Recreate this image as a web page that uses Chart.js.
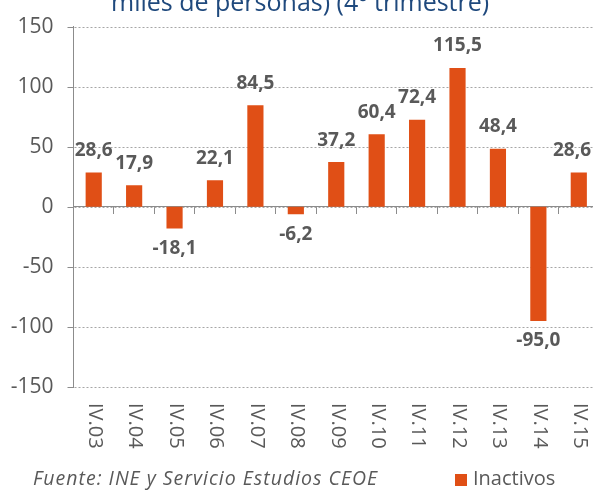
<!DOCTYPE html>
<html>
<head>
<meta charset="utf-8">
<script src="https://cdn.jsdelivr.net/npm/chart.js@4.4.0/dist/chart.umd.min.js"></script>
<style>
  body { margin:0; width:593px; height:490px; overflow:hidden; position:relative; background:#fff; font-family:"Open Sans", sans-serif; }
  #wrap { position:absolute; left:0; top:0; width:599px; height:490px; }
  #title { position:absolute; left:111px; top:-11px; font-size:25px; line-height:25px; color:#1f497d; white-space:nowrap; }
  #source { position:absolute; left:33px; top:468px; font-size:19.5px; line-height:19px; letter-spacing:1px; font-style:italic; color:#595959; white-space:nowrap; }
  #legend { position:absolute; left:455px; top:468px; font-size:20px; line-height:20px; color:#595959; white-space:nowrap; }
  #legend i { display:inline-block; width:12px; height:12px; background:#e04f16; margin-right:6px; vertical-align:-1px; }
</style>
</head>
<body>
<div id="wrap"><canvas id="chart" width="599" height="490"></canvas></div>
<div id="title">miles de personas) (4º trimestre)</div>
<div id="source">Fuente: INE y Servicio Estudios CEOE</div>
<div id="legend"><i></i>Inactivos</div>
<script>
const quarters = ['IV.03','IV.04','IV.05','IV.06','IV.07','IV.08','IV.09','IV.10','IV.11','IV.12','IV.13','IV.14','IV.15'];
const inactivos = [28.6, 17.9, -18.1, 22.1, 84.5, -6.2, 37.2, 60.4, 72.4, 115.5, 48.4, -95.0, 28.6];
const yMin = -150, yMax = 150, yStep = 50;

const grey = '#595959';
const fmt = v => v.toFixed(1).replace('.', ',');

// dotted horizontal gridlines + small tick marks on the y axis
const dottedGrid = {
  id: 'dottedGrid',
  beforeDatasetsDraw(chart) {
    const ctx = chart.ctx;
    const ys = chart.scales.y;
    const area = chart.chartArea;
    ctx.save();
    ctx.lineWidth = 1;
    ys.ticks.forEach(t => {
      const y = Math.round(ys.getPixelForValue(t.value)) + 0.5;
      ctx.strokeStyle = '#a6a6a6';
      ctx.setLineDash([2, 2]);
      ctx.beginPath();
      ctx.moveTo(area.left + 1, y);
      ctx.lineTo(area.right, y);
      ctx.stroke();
      ctx.strokeStyle = '#8c8c8c';
      ctx.setLineDash([]);
      ctx.beginPath();
      ctx.moveTo(area.left - 6, y);
      ctx.lineTo(area.left, y);
      ctx.stroke();
    });
    ctx.restore();
  }
};

// value labels above / below each bar
const valueLabels = {
  id: 'valueLabels',
  afterDatasetsDraw(chart) {
    const ctx = chart.ctx;
    const meta = chart.getDatasetMeta(0);
    ctx.save();
    ctx.font = 'bold 19px "Open Sans"';
    ctx.fillStyle = grey;
    ctx.textAlign = 'center';
    ctx.textBaseline = 'middle';
    meta.data.forEach((bar, i) => {
      const v = inactivos[i];
      const txt = fmt(v);
      const w = ctx.measureText(txt).width;
      let x = bar.x;
      if (x + w / 2 > 591) x = 591 - w / 2;
      const y = v >= 0 ? bar.y - 22 : bar.y + 20;
      ctx.fillText(txt, x, y);
    });
    ctx.restore();
  }
};

// category labels, rotated to read top to bottom
const rotatedLabels = {
  id: 'rotatedLabels',
  afterDraw(chart) {
    const ctx = chart.ctx;
    const xs = chart.scales.x;
    ctx.save();
    ctx.font = '20px "Open Sans"';
    ctx.fillStyle = grey;
    ctx.textAlign = 'left';
    ctx.textBaseline = 'middle';
    quarters.forEach((q, i) => {
      ctx.save();
      ctx.translate(xs.getPixelForValue(i) + 1, 403);
      ctx.rotate(Math.PI / 2);
      ctx.fillText(q, 0, 0);
      ctx.restore();
    });
    ctx.restore();
  }
};

new Chart(document.getElementById('chart'), {
  type: 'bar',
  data: {
    labels: quarters,
    datasets: [{
      label: 'Inactivos',
      data: inactivos,
      backgroundColor: '#e04f16',
      borderWidth: 0,
      barPercentage: 0.4,
      categoryPercentage: 1
    }]
  },
  options: {
    responsive: false,
    animation: false,
    layout: { padding: { top: 21, bottom: 103, left: 0, right: 0 } },
    plugins: { legend: { display: false }, tooltip: { enabled: false } },
    scales: {
      x: {
        position: { y: 0 },
        offset: true,
        grid: { drawOnChartArea: false, drawTicks: true, tickLength: 7, color: '#8c8c8c', offset: true },
        border: { display: true, color: '#8c8c8c', width: 1 },
        ticks: { display: false }
      },
      y: {
        position: 'left',
        min: yMin, max: yMax,
        afterFit: s => { s.width = 73.5; },
        grid: { display: false, tickLength: 6 },
        border: { display: true, color: '#8c8c8c', width: 1 },
        ticks: { stepSize: yStep, color: grey, font: { family: 'Open Sans', size: 21 }, padding: 14 }
      }
    }
  },
  plugins: [dottedGrid, valueLabels, rotatedLabels]
});
</script>
</body>
</html>
